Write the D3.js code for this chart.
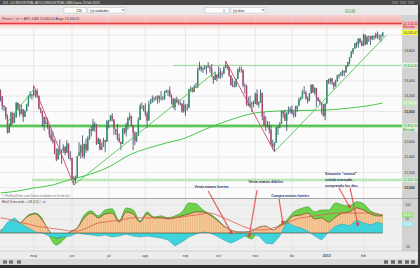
<!DOCTYPE html>
<html>
<head>
<meta charset="utf-8">
<script src="https://cdnjs.cloudflare.com/ajax/libs/d3/7.8.5/d3.min.js"></script>
<style>
html, body { margin: 0; padding: 0; background: #2b2b2b; overflow: hidden; }
svg { display: block; font-family: "Liberation Sans", Arial, sans-serif; }
</style>
</head>
<body>
<svg id="chart" width="420" height="268"></svg>
<script>
// DJI diario, 3 abr 2012 -> 19 feb 2013 (220 barras)
const opens = [
  13264,13199,13074,13057,12928,12719,12806,12982,12852,12922,13114,13031,12965,13028,12928,13004,13089,13205,13227,
  13214,13277,13268,13207,13037,13005,12931,12836,12850,12818,12695,12634,12599,12441,12372,12505,12499,12495,12529,12457,12579,12419,
  12391,12117,12101,12128,12416,12459,12555,12412,12572,12497,12651,12765,12742,12836,12822,12575,12638,12503,12537,12625,12603,
  12879,12872,12942,12896,12771,12737,12653,12602,12575,12774,12728,12804,12908,12942,12821,12720,12619,12678,12887,13075,13072,
  13009,12975,12880,13097,13119,13167,13174,13163,13207,13170,13171,13166,13252,13273,13274,13202,13171,13056,13159,13122,13103,13105,13002,
  13092,13036,13048,13292,13305,13255,13324,13330,13541,13591,13551,13565,13576,13597,13577,13559,13456,13413,13484,
  13437,13514,13482,13495,13575,13609,13583,13473,13346,13327,13329,13425,13551,13555,13548,13344,13344,13104,13079,13103,13107,
  13099,13233,13092,13114,13245,12933,12810,12816,12812,12757,12570,12542,12589,12795,12789,12837,13007,12966,12877,12987,13021,
  13027,12967,12951,13034,13074,13153,13170,13249,13244,13170,13135,13236,13350,13248,13309,13189,13139,13114,13095,12938,
  13104,13413,13392,13435,13383,13329,13391,13471,13488,13505,13534,13512,13596,13650,13712,13779,13825,13895,13882,13954,13910,
  13861,14008,13880,13979,13986,13944,13992,13970,14019,13984,13973,13983
];
const highs = [
  13290,13199,13084,13060,12961,12848,12996,12986,12984,13125,13114,13098,13087,13028,13021,13100,13214,13264,13227,
  13339,13277,13300,13207,13052,13008,12931,12932,12915,12818,12763,12734,12628,12519,12509,12632,12499,12568,12546,12621,12579,12479,
  12391,12151,12159,12416,12595,12566,12685,12578,12642,12673,12776,12808,12903,12865,12838,12663,12638,12593,12653,12625,12880,
  12889,12953,12979,12896,12771,12838,12710,12602,12782,12783,12852,12925,12985,12942,12821,12740,12728,12921,13103,13119,13082,
  13107,13002,13140,13163,13212,13193,13205,13208,13207,13267,13205,13270,13285,13285,13331,13224,13171,13177,13193,13159,13144,13105,13152,
  13092,13102,13293,13330,13316,13349,13375,13574,13653,13591,13580,13607,13597,13647,13598,13621,13467,13522,13484,
  13594,13568,13528,13591,13662,13609,13588,13473,13438,13401,13429,13564,13588,13592,13548,13368,13344,13192,13206,13131,13142,
  13247,13290,13135,13290,13245,12991,12939,12875,12867,12824,12628,12599,12796,12820,12859,13010,13007,13023,12988,13064,13060,
  13080,13004,13075,13075,13183,13193,13285,13331,13272,13196,13243,13354,13358,13314,13309,13189,13162,13123,13095,13104,
  13413,13430,13436,13435,13384,13417,13482,13488,13520,13543,13534,13609,13652,13712,13794,13832,13897,13915,13960,13967,13930,
  14019,14008,13993,13997,13991,13997,13992,14032,14049,14012,14014,14044
];
const lows = [
  13132,13021,13005,12895,12710,12719,12806,12833,12852,12922,13009,12931,12965,12863,12928,13004,13064,13175,13155,
  13198,13182,13175,13025,12977,12804,12750,12836,12771,12654,12616,12579,12438,12347,12368,12429,12313,12456,12424,12457,12376,12355,
  12107,12035,12061,12128,12416,12382,12395,12376,12455,12478,12627,12673,12742,12736,12560,12575,12487,12493,12537,12464,12603,
  12778,12872,12870,12692,12691,12618,12590,12493,12575,12700,12671,12760,12880,12807,12492,12561,12599,12678,12887,13033,13000,
  12935,12780,12880,13096,13119,13130,13144,13101,13115,13144,13146,13151,13242,13207,13186,13093,13037,13013,13113,13085,13076,12984,12984,
  12942,13008,13048,13258,13252,13255,13310,13306,13541,13522,13505,13547,13486,13576,13510,13455,13361,13413,13394,
  13437,13427,13445,13494,13569,13547,13457,13340,13320,13314,13321,13425,13513,13509,13319,13236,13076,13069,13051,12995,13055,
  13099,13079,13048,13113,12885,12810,12744,12790,12711,12549,12502,12471,12589,12692,12780,12837,12920,12876,12744,12962,12976,
  12963,12918,12926,12995,13074,13143,13170,13228,13152,13105,13135,13236,13246,13220,13063,13130,13085,12964,12938,12883,
  13104,13359,13360,13345,13285,13329,13391,13432,13463,13462,13461,13512,13580,13619,13701,13752,13825,13836,13838,13889,13855,
  13861,13870,13880,13912,13873,13944,13934,13955,13953,13932,13908,13983
];
const closes = [
  13199.55,13074.75,13060.14,12929.59,12715.93,12805.39,12986.58,12849.59,12921.41,13115.54,13032.75,12964.10,13029.26,12927.17,13001.56,13090.72,13204.62,13228.31,13213.63,
  13279.32,13268.57,13206.59,13038.27,13008.53,12932.09,12835.06,12855.04,12820.60,12695.35,12632.00,12598.55,12442.49,12369.38,12504.48,12502.81,12496.15,12529.75,12454.83,12580.69,12419.86,12393.45,
  12118.57,12101.46,12127.95,12414.79,12460.96,12554.20,12411.23,12573.80,12496.38,12651.91,12767.17,12741.82,12837.33,12824.39,12573.57,12640.78,12502.66,12534.67,12627.01,12602.26,12880.09,
  12871.39,12943.82,12896.67,12772.47,12736.29,12653.12,12604.53,12573.27,12777.09,12727.21,12805.54,12908.70,12943.36,12822.57,12721.46,12617.32,12676.05,12887.93,13075.66,13073.01,13008.68,
  12976.13,12878.88,13096.17,13117.51,13168.60,13175.64,13165.19,13207.95,13169.43,13172.14,13164.78,13250.11,13275.20,13271.64,13203.58,13172.76,13057.46,13157.97,13124.67,13102.99,13107.48,13000.71,13090.84,
  13035.94,13047.48,13292.00,13306.64,13254.29,13323.36,13333.35,13539.86,13593.37,13553.10,13564.64,13577.96,13596.93,13579.47,13558.92,13457.55,13413.51,13485.97,13437.13,
  13515.11,13482.36,13494.61,13575.36,13610.15,13583.65,13473.53,13344.97,13326.39,13328.85,13424.23,13551.78,13557.00,13548.94,13343.51,13345.89,13102.53,13077.34,13103.68,13107.21,13096.46,
  13232.62,13093.16,13112.44,13245.68,12932.73,12811.32,12815.39,12815.08,12756.18,12570.95,12542.38,12588.31,12795.96,12788.51,12836.89,13009.68,12967.37,12878.13,12985.11,13021.82,13025.58,
  12965.60,12951.78,13034.49,13074.04,13155.13,13169.88,13248.44,13245.45,13170.72,13135.01,13235.39,13350.96,13251.97,13311.72,13190.84,13139.08,13114.59,13096.31,12938.11,13104.14,
  13412.55,13391.36,13435.21,13384.29,13328.85,13390.51,13471.22,13488.43,13507.32,13534.89,13511.23,13596.02,13649.70,13712.21,13779.33,13825.33,13895.98,13881.93,13954.42,13910.42,13860.58,
  14009.79,13880.08,13979.30,13986.52,13944.05,13992.97,13971.24,14018.70,13982.91,13973.39,13981.76,14035.67
];

// meses (índice de la primera barra de cada mes)
const monthLabels = ["may", "jun", "jul", "ago", "sep", "oct", "nov", "dic", "2013", "feb"];
const monthStarts = [19, 41, 62, 83, 106, 125, 146, 167, 187, 208];

// eje de precios
const priceGrid = [14000, 13800, 13600, 13400, 13200, 13000, 12800, 12600, 12400, 12200, 12000];
const priceTicks = [13800, 13400, 13200, 13000, 12600, 12400, 12200, 12000];

// niveles horizontales
const resistLevel = 14154.50;
const topLevel = 13604.80;
const midLevel = 12810.50;
const lowLevel = 12101.50;

// media móvil 200
const maBars = [0, 10, 19, 30, 41, 50, 62, 75, 83, 95, 106, 115, 125, 135, 146, 160, 175, 187, 200, 210, 219];
const maValues = [11930, 11956, 11995, 12035, 12114, 12166, 12271, 12442, 12507, 12586, 12652, 12744, 12835, 12914, 12980, 13006, 13013, 13019, 13045, 13072, 13111];

// líneas de tendencia [barra1, precio1, barra2, precio2]
const greenTrends = [[4, 12860, 19, 13290], [42, 12035, 123, 13518], [157, 12471, 221, 14000]];
const redTrends = [[19, 13339, 42, 12035], [129, 13662, 157, 12471]];

// Koncorde, una muestra cada 4 barras + la última
const kBars = d3.range(0, 220, 4).concat([219]);
const kGreen = [7,14,29,39,64,71,50,-11,-43,-25, 4,18,64,79,61,82,86,43,89,82, 43,75,57,61,54,61,75,107,104,82,
  68,50,25,4,-4,-11,-21,14,21,7, 29,46,75,86,93,75,82,82,107,100, 96,111,104,79,68,64];
const kBrown = [11,14,25,39,61,68,46,7,-18,-11, 4,18,54,71,54,68,71,39,75,68, 39,68,54,54,50,54,61,68,75,75,
  64,46,25,11,4,4,7,21,25,11, 25,39,61,64,71,50,54,39,57,71, 75,89,82,68,61,61];
const kBlue = [4,39,54,32,18,4,0,-11,-18,-14, -11,0,-4,-7,-11,-7,-14,-11,-4,-11, -14,-11,-14,-18,-25,-46,-32,-14,-4,4,
  0,-11,-25,-36,-25,-11,-4,-11,-36,-39, -11,39,25,18,7,-11,-25,4,25,32, 25,46,36,29,39,32];
const kMedia = [54,50,43,36,32,25,21,18,14,11, 7,7,14,25,36,39,43,46,50,54, 54,54,54,54,54,54,57,61,64,68,
  71,64,54,43,32,21,14,11,11,18, 25,36,46,54,57,61,64,68,71,71, 71,71,71,71,68,64];
const kTicks = [100, 50, -50];

// anotaciones [barra, precio]
const notes = [
  { lines: ["Venta manos fuertes"], bar: 121, price: 11990 },
  { lines: ["Venta manos débiles"], bar: 152, price: 12055 },
  { lines: ["Compra manos fuertes"], bar: 166, price: 11872 },
  { lines: ["Situación \"normal\"", "subida marcada,", "comprando los dos."], bar: 186, price: 12160, left: true }
];
// flechas: desde [barra, precio] hasta [barra, valor koncorde]
const arrowFrom = [[119, 11956], [147, 11969], [159.6, 11851], [194, 11996], [200.3, 11996]];
const arrowTo = [[132.7, -4], [142.4, -14], [161.9, 32], [200.3, 89], [204.9, 25]];

const svg = d3.select("#chart");
const axisX = 402;
const pTop = 15, pBottom = 198, kTop = 199, kBottom = 251;

const x = d3.scaleLinear().domain([0, 219]).range([0.5, 382.7]);
const y = d3.scaleLinear().domain([11864, 14266]).range([pBottom, pTop]);
const yk = d3.scaleLinear().domain([-64, 121]).range([kBottom, kTop]);

const defs = svg.append("defs");
const pink = defs.append("linearGradient").attr("id", "pinkBand")
  .attr("x1", 0).attr("x2", 0).attr("y1", 0).attr("y2", 1);
pink.append("stop").attr("offset", "0%").attr("stop-color", "#f8cfcf");
pink.append("stop").attr("offset", "50%").attr("stop-color", "#f5b0b0");
pink.append("stop").attr("offset", "100%").attr("stop-color", "#ffffff").attr("stop-opacity", 0);

const hatch = defs.append("pattern").attr("id", "tanHatch")
  .attr("patternUnits", "userSpaceOnUse").attr("width", 1.745).attr("height", 10);
hatch.append("rect").attr("width", 1.745).attr("height", 10).attr("fill", "#f6cd9c");
hatch.append("line").attr("x1", 0.4).attr("x2", 0.4).attr("y1", 0).attr("y2", 10)
  .attr("stroke", "#e2a46a").attr("stroke-width", 0.5);

defs.append("clipPath").attr("id", "clipPrice").append("rect")
  .attr("x", 0).attr("y", pTop).attr("width", axisX).attr("height", pBottom - pTop);
defs.append("clipPath").attr("id", "clipK").append("rect")
  .attr("x", 0).attr("y", kTop).attr("width", axisX).attr("height", kBottom - kTop);

defs.append("marker").attr("id", "arrowHead").attr("viewBox", "0 0 10 10")
  .attr("refX", 8).attr("refY", 5).attr("markerWidth", 3.5).attr("markerHeight", 3.5)
  .attr("orient", "auto").append("path").attr("d", "M0,0L10,5L0,10z").attr("fill", "#e04848");

// ---------- marco de la ventana ----------
svg.append("rect").attr("width", 420).attr("height", 268).attr("fill", "#2d2d2d");
svg.append("rect").attr("width", 420).attr("height", 5).attr("fill", "#4b4b4b");
svg.append("text").attr("x", 3).attr("y", 3.7).attr("font-size", 3.2).attr("fill", "#e0e0e0")
  .text("DJI - DJ INDUSTRIAL AVG      DJINDUSTRIAL DBN      Diario  19 feb 2013");
[392, 400, 408].forEach(bx => svg.append("rect").attr("x", bx).attr("y", 1).attr("width", 6).attr("height", 3)
  .attr("fill", "#6a6a6a"));

svg.append("rect").attr("y", 5).attr("width", 420).attr("height", 10).attr("fill", "#e9e9e9");
function inputBox(x0, w, label, right) {
  svg.append("rect").attr("x", x0).attr("y", 7.5).attr("width", w).attr("height", 5.5)
    .attr("fill", "#fff").attr("stroke", "#b0b0b0").attr("stroke-width", 0.4);
  svg.append("text").attr("x", right ? x0 + w - 4 : x0 + 2).attr("y", 11.6)
    .attr("text-anchor", right ? "end" : "start").attr("font-size", 3.4).attr("fill", "#222").text(label);
}
inputBox(64, 22, "220", true);
inputBox(88, 37, "(u) unidades", false);
inputBox(205, 24, "1", true);
inputBox(231, 34, "(u) días", false);
[122, 262].forEach(tx => svg.append("path").attr("d", `M${tx},9.5l2,0l-1,1.6z`).attr("fill", "#333"));
svg.append("text").attr("x", 345).attr("y", 11.5).attr("font-size", 3.4).attr("fill", "#3f8f3f")
  .attr("text-decoration", "underline").text("ZOOM");

// ---------- panel de precios ----------
svg.append("rect").attr("x", 0).attr("y", pTop).attr("width", axisX).attr("height", pBottom - pTop).attr("fill", "#fbfbfb");
svg.append("rect").attr("x", axisX).attr("y", pTop).attr("width", 16).attr("height", kBottom - pTop).attr("fill", "#d2d2d2");
svg.append("rect").attr("x", 418).attr("y", 5).attr("width", 2).attr("height", 263).attr("fill", "#3a3a3a");

const gp = svg.append("g").attr("clip-path", "url(#clipPrice)");

gp.append("rect").attr("x", 0).attr("y", pTop).attr("width", axisX)
  .attr("height", y(resistLevel) - pTop + 8).attr("fill", "url(#pinkBand)");

gp.selectAll(".hgrid").data(priceGrid).enter().append("line")
  .attr("x1", 0).attr("x2", axisX).attr("y1", d => y(d)).attr("y2", d => y(d))
  .attr("stroke", "#dcdcdc").attr("stroke-width", 0.6);
gp.selectAll(".vgrid").data(monthStarts).enter().append("line")
  .attr("x1", d => x(d)).attr("x2", d => x(d)).attr("y1", pTop).attr("y2", pBottom)
  .attr("stroke", "#dcdcdc").attr("stroke-width", 0.6);

// niveles
gp.append("line").attr("x1", 0).attr("x2", axisX).attr("y1", y(resistLevel)).attr("y2", y(resistLevel))
  .attr("stroke", "#e63b3b").attr("stroke-width", 1.4);
gp.append("line").attr("x1", x(99)).attr("x2", axisX).attr("y1", y(topLevel)).attr("y2", y(topLevel))
  .attr("stroke", "#8fd68f").attr("stroke-width", 0.9);
gp.append("line").attr("x1", 0).attr("x2", axisX).attr("y1", y(midLevel)).attr("y2", y(midLevel))
  .attr("stroke", "#bfe8b8").attr("stroke-width", 4);
gp.append("line").attr("x1", 0).attr("x2", axisX).attr("y1", y(midLevel)).attr("y2", y(midLevel))
  .attr("stroke", "#4cc04c").attr("stroke-width", 1.6);
gp.append("line").attr("x1", x(18)).attr("x2", axisX).attr("y1", y(lowLevel)).attr("y2", y(lowLevel))
  .attr("stroke", "#d2efcc").attr("stroke-width", 3);
gp.append("line").attr("x1", x(18)).attr("x2", axisX).attr("y1", y(lowLevel)).attr("y2", y(lowLevel))
  .attr("stroke", "#8ccf86").attr("stroke-width", 0.8).attr("stroke-dasharray", "2 1");

// media móvil
gp.append("path").datum(maBars)
  .attr("fill", "none").attr("stroke", "#47c847").attr("stroke-width", 1)
  .attr("d", d3.line().curve(d3.curveMonotoneX).x(d => x(d)).y((d, i) => y(maValues[i])));

// barras
const bars = gp.append("g");
bars.selectAll(".wick").data(closes).enter().append("line")
  .attr("x1", (d, i) => x(i)).attr("x2", (d, i) => x(i))
  .attr("y1", (d, i) => y(highs[i])).attr("y2", (d, i) => y(lows[i]))
  .attr("stroke", "#34446c").attr("stroke-width", 0.8);
bars.selectAll(".body").data(closes).enter().append("rect")
  .attr("x", (d, i) => x(i) - 0.7).attr("width", 1.4)
  .attr("y", (d, i) => y(Math.max(opens[i], d)))
  .attr("height", (d, i) => Math.max(0.6, Math.abs(y(opens[i]) - y(d))))
  .attr("fill", (d, i) => d >= opens[i] ? "#2f8f66" : "#b5446e");

// tendencias
gp.selectAll(".gtrend").data(greenTrends).enter().append("line")
  .attr("x1", d => x(d[0])).attr("y1", d => y(d[1])).attr("x2", d => x(d[2])).attr("y2", d => y(d[3]))
  .attr("stroke", "#4fc44f").attr("stroke-width", 0.9);
gp.selectAll(".rtrend").data(redTrends).enter().append("line")
  .attr("x1", d => x(d[0])).attr("y1", d => y(d[1])).attr("x2", d => x(d[2])).attr("y2", d => y(d[3]))
  .attr("stroke", "#c8476a").attr("stroke-width", 0.9);

// cabecera del panel
svg.append("text").attr("x", 2).attr("y", 20).attr("font-size", 3.3).attr("fill", "#444")
  .text("Precio ⁄ ▫ ⚙ ▪ ▪  AF0: 4480  14,044.02  Abajo 13,104.20");
svg.append("text").attr("x", 2).attr("y", 196.8).attr("font-size", 3.1).attr("fill", "#777")
  .text("© ProRealTime.com  Datos recibidos en fin de día");

// anotaciones
notes.forEach(n => {
  const t = svg.append("text").attr("font-size", 3.5).attr("font-weight", "bold").attr("fill", "#27306e")
    .attr("text-anchor", n.left ? "start" : "middle");
  n.lines.forEach((ln, j) => t.append("tspan").attr("x", x(n.bar)).attr("y", y(n.price) + j * 5.6).text(ln));
});

// eje de precios
const ay = svg.append("g").attr("transform", `translate(${axisX + 2},0)`);
ay.selectAll(".pt").data(priceTicks).enter().append("text")
  .attr("y", d => y(d) + 1.2).attr("font-size", 3.5)
  .attr("font-weight", d => d % 1000 === 0 ? "bold" : "normal")
  .attr("fill", "#333").text(d => d3.format(",")(d));

function levelLabel(v, fill, color, sub) {
  const h = sub ? 8 : 5;
  svg.append("rect").attr("x", axisX).attr("y", y(v) - 2.6).attr("width", 16).attr("height", h).attr("fill", fill);
  svg.append("text").attr("x", axisX + 1).attr("y", y(v) + 1.2).attr("font-size", 3.3).attr("fill", color)
    .text(d3.format(",.2f")(v));
  if (sub) svg.append("text").attr("x", axisX + 1).attr("y", y(v) + 4.7).attr("font-size", 3)
    .attr("fill", color).text(sub);
}
levelLabel(resistLevel, "#f5b9b9", "#c01818", "Mercado");
levelLabel(closes[closes.length - 1], "#ffff38", "#333", null);
levelLabel(topLevel, "#e3f5e0", "#2c8a2c", null);
levelLabel(maValues[maValues.length - 1], "#b9e9b4", "#ffffff", null);
levelLabel(midLevel, "#d8f2d3", "#2c8a2c", "Mercado");
levelLabel(lowLevel, "#d8f2d3", "#2c8a2c", null);

// ---------- panel Koncorde ----------
svg.append("rect").attr("x", 0).attr("y", pBottom).attr("width", 418).attr("height", 1).attr("fill", "#a8a8a8");
svg.append("rect").attr("x", 0).attr("y", kTop).attr("width", axisX).attr("height", kBottom - kTop).attr("fill", "#efefef");
const gk = svg.append("g").attr("clip-path", "url(#clipK)");
gk.selectAll(".kv").data(monthStarts).enter().append("line")
  .attr("x1", d => x(d)).attr("x2", d => x(d)).attr("y1", kTop).attr("y2", kBottom)
  .attr("stroke", "#dddddd").attr("stroke-width", 0.6);
gk.selectAll(".kh").data(kTicks).enter().append("line")
  .attr("x1", 0).attr("x2", axisX).attr("y1", d => yk(d)).attr("y2", d => yk(d))
  .attr("stroke", "#dddddd").attr("stroke-width", 0.5);

const kArea = vals => d3.area().curve(d3.curveMonotoneX)
  .x(d => x(d)).y0(yk(0)).y1((d, i) => yk(vals[i]));
const kLine = vals => d3.line().curve(d3.curveMonotoneX)
  .x(d => x(d)).y((d, i) => yk(vals[i]));

gk.append("path").datum(kBars).attr("d", kArea(kGreen)).attr("fill", "#6fd24a");
gk.append("path").datum(kBars).attr("d", kLine(kGreen)).attr("fill", "none").attr("stroke", "#2f9a24").attr("stroke-width", 0.6);
gk.append("path").datum(kBars).attr("d", kArea(kBrown)).attr("fill", "url(#tanHatch)");
gk.append("path").datum(kBars).attr("d", kLine(kBrown)).attr("fill", "none").attr("stroke", "#6a4422").attr("stroke-width", 0.7);
gk.append("path").datum(kBars).attr("d", d3.area().x(d => x(d)).y0(yk(0)).y1((d, i) => yk(kBlue[i])))
  .attr("fill", "#3fd3dc");
gk.append("path").datum(kBars).attr("d", d3.line().x(d => x(d)).y((d, i) => yk(kBlue[i])))
  .attr("fill", "none").attr("stroke", "#1a9fb0").attr("stroke-width", 0.5);
gk.append("path").datum(kBars).attr("d", kLine(kMedia)).attr("fill", "none").attr("stroke", "#e05a4e").attr("stroke-width", 0.8);
gk.append("line").attr("x1", 0).attr("x2", x(219)).attr("y1", yk(0)).attr("y2", yk(0))
  .attr("stroke", "#5a3a1a").attr("stroke-width", 0.6);

svg.append("text").attr("x", 2).attr("y", 203).attr("font-size", 3.3).attr("fill", "#444")
  .text("Blai5 Koncorde + 08 (13) ⁄ ▫ ⚙");

// flechas
svg.selectAll(".arrow").data(arrowFrom).enter().append("line")
  .attr("x1", d => x(d[0])).attr("y1", d => y(d[1]))
  .attr("x2", (d, i) => x(arrowTo[i][0])).attr("y2", (d, i) => yk(arrowTo[i][1]))
  .attr("stroke", "#e25050").attr("stroke-width", 1.2).attr("stroke-opacity", 0.9)
  .attr("marker-end", "url(#arrowHead)");

// eje koncorde
svg.selectAll(".kt").data(kTicks).enter().append("text")
  .attr("x", axisX + 3).attr("y", d => yk(d) + 1.2).attr("font-size", 3.4).attr("fill", "#444")
  .text(d => d);
function kLabel(v, fill) {
  svg.append("rect").attr("x", axisX).attr("y", yk(v) - 2.5).attr("width", 11).attr("height", 5).attr("fill", fill);
  svg.append("text").attr("x", axisX + 1.5).attr("y", yk(v) + 1.2).attr("font-size", 3.2).attr("fill", "#fff")
    .text(d3.format(".2f")(v));
}
kLabel(kGreen[kGreen.length - 1], "#93e27c");
kLabel(kBlue[kBlue.length - 1], "#9fe6ee");

// eje temporal
svg.append("rect").attr("x", 0).attr("y", kBottom).attr("width", 418).attr("height", 8).attr("fill", "#ececec");
svg.append("line").attr("x1", 0).attr("x2", 418).attr("y1", kBottom).attr("y2", kBottom).attr("stroke", "#b8b8b8").attr("stroke-width", 0.5);
svg.selectAll(".mt").data(monthStarts).enter().append("text")
  .attr("x", d => x(d)).attr("y", 256.5).attr("text-anchor", "middle").attr("font-size", 3.6)
  .attr("font-weight", (d, i) => monthLabels[i] === "2013" ? "bold" : "normal")
  .attr("fill", "#444").text((d, i) => monthLabels[i]);

// barra inferior
svg.append("rect").attr("x", 0).attr("y", 259).attr("width", 418).attr("height", 6).attr("fill", "#d9d9d9");
[3, 9, 17].forEach(bx => svg.append("rect").attr("x", bx).attr("y", 260.3).attr("width", 4).attr("height", 3.4)
  .attr("fill", "#777"));
[384, 391, 398, 405, 411].forEach(bx => svg.append("rect").attr("x", bx).attr("y", 260.3).attr("width", 4)
  .attr("height", 3.4).attr("fill", "#666"));
</script>
</body>
</html>
